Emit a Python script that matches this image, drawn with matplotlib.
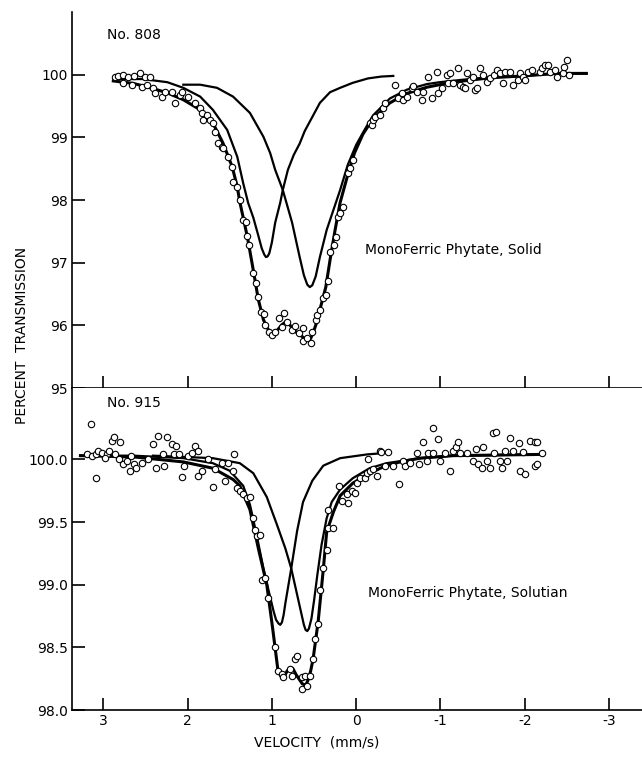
import matplotlib
matplotlib.use('agg')
import matplotlib.pyplot as plt

plt.rcParams['axes.unicode_minus'] = False
plt.rcParams['font.family'] = ['DejaVu Sans']

# ---- No. 808, solid: measured points (velocity mm/s, % transmission)
top_v = [2.86, 2.82, 2.76, 2.70, 2.64, 2.56, 2.50, 2.44, 2.76, 2.66, 2.54, 2.48, 2.41, 2.38, 2.30,
         2.27, 2.18, 2.15, 2.09, 2.06, 2.00, 1.91, 1.85, 1.83, 1.82, 1.77, 1.73, 1.70, 1.67, 1.64,
         1.59, 1.58, 1.52, 1.47, 1.46, 1.41, 1.38, 1.34, 1.31, 1.29, 1.27, 1.22, 1.19, 1.16, 1.13,
         1.09, 1.08, 1.03, 1.00, 0.96, 0.91, 0.86, 0.88, 0.82, 0.76, 0.73, 0.68, 0.63, 0.63, 0.58,
         0.54, 0.52, 0.48, 0.46, 0.43, 0.39, 0.36, 0.33, 0.31, 0.26, 0.24, 0.22, 0.19, 0.16, 0.10,
         0.07, 0.04, -0.16, -0.19, -0.20, -0.22, -0.28, -0.32, -0.34, -0.46, -0.50, -0.55, -0.60,
         -0.54, -0.66, -0.67, -0.72, -0.78, -0.79, -0.85, -0.90, -0.96, -0.97, -1.02, -1.08, -1.09,
         -1.11, -1.15, -1.21, -1.23, -1.27, -1.29, -1.32, -1.35, -1.38, -1.41, -1.43, -1.47, -1.50,
         -1.55, -1.59, -1.64, -1.67, -1.70, -1.74, -1.76, -1.82, -1.86, -1.92, -1.94, -1.98, -2.00,
         -2.04, -2.09, -2.18, -2.20, -2.24, -2.27, -2.30, -2.36, -2.38, -2.45, -2.47, -2.50, -2.53]
top_t = [99.97, 99.98, 100.00, 99.97, 99.98, 100.03, 99.97, 99.97, 99.87, 99.84, 99.81, 99.84, 99.79, 99.71, 99.65,
         99.73, 99.73, 99.55, 99.68, 99.73, 99.65, 99.55, 99.47, 99.39, 99.28, 99.36, 99.28, 99.23, 99.09, 98.91,
         98.85, 98.83, 98.69, 98.53, 98.29, 98.21, 98.00, 97.68, 97.65, 97.43, 97.28, 96.84, 96.68, 96.45, 96.21,
         96.18, 96.01, 95.89, 95.85, 95.89, 96.12, 96.20, 95.97, 96.05, 95.93, 95.99, 95.88, 95.96, 95.75, 95.80,
         95.72, 95.89, 96.09, 96.17, 96.25, 96.44, 96.49, 96.71, 97.17, 97.28, 97.41, 97.73, 97.80, 97.89, 98.43,
         98.51, 98.64, 99.23, 99.20, 99.28, 99.33, 99.36, 99.47, 99.55, 99.84, 99.63, 99.60, 99.65,
         99.71, 99.79, 99.82, 99.73, 99.60, 99.73, 99.97, 99.63, 100.05, 99.71, 99.78, 100.00, 99.87,
         100.03, 99.87, 100.10, 99.84, 99.81, 99.79, 100.03, 99.92, 99.97, 99.76, 99.79, 100.11, 100.00,
         99.89, 99.95, 100.00, 100.08, 100.03, 99.87, 100.05, 100.05, 99.84, 99.92, 100.03, 99.97, 99.92,
         100.05, 100.08, 100.05, 100.11, 100.16, 100.16, 100.05, 100.08, 99.97, 100.03, 100.13, 100.24, 100.00]

# fitted envelope and the two quadrupole lines
top_env_v = [2.88, 2.64, 2.44, 2.24, 2.05, 1.85, 1.70, 1.58, 1.47, 1.41, 1.38, 1.29, 1.22, 1.16, 1.10,
             1.05, 1.02, 0.99, 0.96, 0.93, 0.88, 0.84, 0.80, 0.76, 0.71, 0.67, 0.62, 0.57, 0.54, 0.51,
             0.47, 0.43, 0.36, 0.31, 0.25, 0.19, 0.10, 0.02,
             -0.08, -0.20, -0.40, -0.60, -0.84, -0.99, -1.27, -1.59, -1.98, -2.38, -2.73]
top_env_t = [99.90, 99.86, 99.79, 99.71, 99.60, 99.44, 99.23, 98.91, 98.53, 98.21, 97.97, 97.41, 96.88, 96.41, 96.09,
             95.95, 95.88, 95.85, 95.87, 95.93, 96.01, 96.05, 96.03, 95.96, 95.89, 95.85, 95.80, 95.77, 95.79, 95.88,
             96.04, 96.25, 96.61, 97.04, 97.52, 97.96, 98.40, 98.75,
             99.05, 99.30, 99.55, 99.70, 99.80, 99.84, 99.90, 99.95, 99.98, 100.02, 100.02]
top_c1_v = [2.88, 2.53, 2.24, 2.05, 1.85, 1.70, 1.53, 1.41, 1.34, 1.28, 1.22, 1.16, 1.12, 1.09, 1.07,
            1.05, 1.03, 1.00, 0.96, 0.90, 0.87, 0.81, 0.74, 0.67, 0.61, 0.55, 0.43, 0.31, 0.19, 0.04,
            -0.14, -0.30, -0.44]
top_c1_t = [99.93, 99.93, 99.88, 99.79, 99.65, 99.44, 99.12, 98.69, 98.27, 97.95, 97.72, 97.43, 97.23, 97.13, 97.09,
            97.10, 97.15, 97.32, 97.64, 97.96, 98.16, 98.48, 98.72, 98.90, 99.10, 99.25, 99.55, 99.72, 99.79, 99.87,
            99.94, 99.97, 99.98]
top_c2_v = [2.05, 1.85, 1.65, 1.46, 1.26, 1.10, 1.02, 0.96, 0.87, 0.76, 0.67, 0.62, 0.58, 0.55, 0.52,
            0.48, 0.43, 0.35, 0.27, 0.19, 0.10, 0.00, -0.10, -0.20, -0.40, -0.60, -0.84, -0.99, -1.27,
            -1.59, -1.98, -2.38, -2.73]
top_c2_t = [99.84, 99.84, 99.79, 99.65, 99.39, 99.01, 98.75, 98.48, 98.16, 97.64, 97.09, 96.80, 96.65, 96.61, 96.64,
            96.78, 97.09, 97.52, 97.84, 98.16, 98.56, 98.88, 99.12, 99.35, 99.62, 99.76, 99.85, 99.88, 99.92,
            99.96, 99.98, 100.02, 100.02]

# ---- No. 915, solution
bot_v = [3.15, 3.19, 3.13, 3.09, 3.06, 3.01, 2.95, 2.93, 2.98, 3.08, 2.89, 2.87, 2.80, 2.86, 2.81,
         2.76, 2.72, 2.67, 2.63, 2.61, 2.68, 2.54, 2.47, 2.41, 2.35, 2.24, 2.18, 2.14, 2.37, 2.28,
         2.29, 2.16, 2.10, 2.04, 2.00, 1.95, 1.91, 1.87, 2.06, 1.87, 1.70, 1.83, 1.76, 1.67, 1.59,
         1.52, 1.45, 1.46, 1.55, 1.41, 1.38, 1.34, 1.29, 1.26, 1.22, 1.20, 1.18, 1.14, 1.12, 1.08,
         1.04, 0.96, 0.93, 0.88, 0.87, 0.76, 0.78, 0.73, 0.70, 0.64, 0.61, 0.55, 0.64, 0.58, 0.51,
         0.49, 0.45, 0.43, 0.39, 0.35, 0.33, 0.33, 0.27, 0.20, 0.17, 0.11, 0.10, 0.05, 0.01, -0.01,
         -0.05, -0.10, -0.13, -0.16, -0.20, -0.25, -0.14, -0.28, -0.34, -0.29, -0.38, -0.44, -0.51,
         -0.55, -0.58, -0.64, -0.72, -0.74, -0.79, -0.84, -0.85, -0.91, -0.91, -0.97, -0.99, -1.05,
         -1.11, -1.15, -1.19, -1.21, -1.23, -1.31, -1.38, -1.42, -1.44, -1.49, -1.50, -1.55, -1.59,
         -1.62, -1.64, -1.66, -1.70, -1.73, -1.76, -1.79, -1.83, -1.86, -1.93, -1.94, -1.98, -2.00,
         -2.06, -2.12, -2.14, -2.12, -2.14, -2.20]
bot_t = [100.28, 100.04, 100.03, 100.04, 100.07, 100.05, 100.04, 100.07, 100.01, 99.85, 100.15, 100.18, 100.14, 100.04, 100.00,
         99.96, 99.99, 100.03, 99.96, 99.93, 99.91, 99.97, 100.00, 100.12, 100.19, 100.18, 100.12, 100.11, 99.93, 99.95,
         100.04, 100.04, 100.04, 99.95, 100.03, 100.05, 100.11, 100.07, 99.86, 99.87, 99.78, 99.91, 100.00, 99.92, 99.97,
         99.97, 100.04, 99.91, 99.83, 99.77, 99.75, 99.72, 99.69, 99.70, 99.53, 99.44, 99.39, 99.40, 99.04, 99.05,
         98.89, 98.50, 98.31, 98.29, 98.26, 98.27, 98.33, 98.41, 98.43, 98.26, 98.27, 98.27, 98.17, 98.19, 98.41,
         98.57, 98.69, 98.96, 99.13, 99.28, 99.45, 99.60, 99.45, 99.79, 99.67, 99.72, 99.65, 99.75, 99.73, 99.81,
         99.85, 99.85, 99.89, 99.91, 99.92, 99.87, 100.00, 100.07, 99.95, 100.06, 100.06, 99.95, 99.80,
         99.99, 99.95, 99.97, 100.05, 99.96, 100.14, 99.99, 100.05, 100.25, 100.05, 100.16, 99.99, 100.05,
         99.91, 100.07, 100.10, 100.14, 100.05, 100.05, 99.99, 100.08, 99.96, 99.93, 100.10, 99.99, 99.93,
         100.21, 100.05, 100.22, 99.99, 99.93, 100.07, 99.99, 100.17, 100.07, 100.13, 99.91, 100.06, 99.88,
         100.15, 100.14, 100.14, 99.95, 99.96, 100.05]

bot_env_v = [3.27, 2.64, 2.05, 1.70, 1.46, 1.38, 1.26, 1.16, 1.06, 0.99, 0.93, 0.90, 0.88, 0.85, 0.82,
             0.78, 0.75, 0.71, 0.67, 0.64, 0.61, 0.59, 0.57, 0.54, 0.51, 0.45, 0.39, 0.35, 0.27, 0.19,
             0.04, -0.13, -0.32, -0.52, -0.76, -1.15, -2.21]
bot_env_t = [100.03, 100.02, 99.98, 99.93, 99.84, 99.79, 99.60, 99.29, 99.00, 98.65, 98.33, 98.28, 98.26, 98.27, 98.31,
             98.34, 98.33, 98.28, 98.24, 98.21, 98.20, 98.21, 98.24, 98.31, 98.41, 98.71, 99.12, 99.42, 99.58, 99.71,
             99.81, 99.88, 99.94, 99.98, 100.01, 100.03, 100.04]
bot_c1_v = [3.27, 2.64, 2.05, 1.70, 1.50, 1.34, 1.26, 1.22, 1.16, 1.10, 1.03, 0.98, 0.95, 0.92, 0.90,
            0.88, 0.86, 0.84, 0.77, 0.70, 0.63, 0.52, 0.39, 0.19, -0.13, -0.32]
bot_c1_t = [100.03, 100.03, 100.01, 99.97, 99.91, 99.79, 99.64, 99.52, 99.33, 99.13, 98.93, 98.79, 98.72, 98.69, 98.68,
            98.70, 98.76, 98.85, 99.13, 99.43, 99.66, 99.83, 99.95, 100.01, 100.04, 100.05]
bot_c2_v = [2.41, 2.05, 1.70, 1.38, 1.22, 1.06, 0.94, 0.84, 0.77, 0.69, 0.65, 0.62, 0.60, 0.58, 0.56,
            0.53, 0.50, 0.46, 0.41, 0.35, 0.29, 0.19, 0.04, -0.16, -0.36, -0.76, -1.15, -2.21]
bot_c2_t = [100.03, 100.02, 100.01, 99.97, 99.89, 99.70, 99.48, 99.29, 99.13, 98.89, 98.77, 98.68, 98.64, 98.63, 98.65,
            98.73, 98.87, 99.08, 99.32, 99.53, 99.66, 99.76, 99.85, 99.93, 99.97, 100.01, 100.03, 100.04]

vel_ticks = [3, 2, 1, 0, -1, -2, -3]
top_yticks = [95, 96, 97, 98, 99, 100]
bot_yticks = [98.0, 98.5, 99.0, 99.5, 100.0]


def style_axes(ax):
    for side in ('top', 'right'):
        ax.spines[side].set_visible(False)
    ax.spines['left'].set_linewidth(1.2)
    ax.spines['bottom'].set_linewidth(1.2)
    ax.set_xlim(3.37, -3.39)
    ax.set_xticks(vel_ticks)
    ax.tick_params(axis='both', direction='in', length=9, width=1.2, labelsize=10, pad=3)


def draw_panel(ax, v, t, env, c1, c2):
    ax.plot(c1[0], c1[1], color='black', lw=1.6, zorder=2, solid_joinstyle='round')
    ax.plot(c2[0], c2[1], color='black', lw=1.6, zorder=2, solid_joinstyle='round')
    ax.plot(env[0], env[1], color='black', lw=2.2, zorder=3, solid_joinstyle='round')
    ax.plot(v, t, 'o', ms=4.6, mfc='white', mec='black', mew=0.8, zorder=4)


fig = plt.figure(figsize=(6.42, 7.57), dpi=100)
ax1 = fig.add_axes([72 / 642, 1 - 388 / 757, 1 - 72 / 642, 376 / 757])
ax2 = fig.add_axes([72 / 642, 1 - 710 / 757, 1 - 72 / 642, 322 / 757])

draw_panel(ax1, top_v, top_t, (top_env_v, top_env_t), (top_c1_v, top_c1_t), (top_c2_v, top_c2_t))
style_axes(ax1)
ax1.set_ylim(95, 101)
ax1.set_yticks(top_yticks)
ax1.set_yticklabels([str(y) for y in top_yticks])
ax1.tick_params(axis='x', labelbottom=False)
ax1.text(2.95, 100.64, 'No. 808', fontsize=10, ha='left', va='center')
ax1.text(-0.10, 97.20, 'MonoFerric Phytate, Solid', fontsize=10, ha='left', va='center')

draw_panel(ax2, bot_v, bot_t, (bot_env_v, bot_env_t), (bot_c1_v, bot_c1_t), (bot_c2_v, bot_c2_t))
style_axes(ax2)
ax2.set_ylim(98.0, 100.57)
ax2.set_yticks(bot_yticks)
ax2.set_yticklabels(['%.1f' % y for y in bot_yticks])
ax2.set_xticklabels([str(x) for x in vel_ticks])
ax2.text(2.95, 100.45, 'No. 915', fontsize=10, ha='left', va='center')
ax2.text(-0.14, 98.93, 'MonoFerric Phytate, Solutian', fontsize=10, ha='left', va='center')

fig.text(22 / 642, 1 - 335 / 757, 'PERCENT  TRANSMISSION', rotation=90, fontsize=10,
         ha='center', va='center')
fig.text(317 / 642, 1 - 743 / 757, 'VELOCITY  (mm/s)', fontsize=10, ha='center', va='center')

fig.savefig('out.png', dpi=100)
plt.close(fig)
